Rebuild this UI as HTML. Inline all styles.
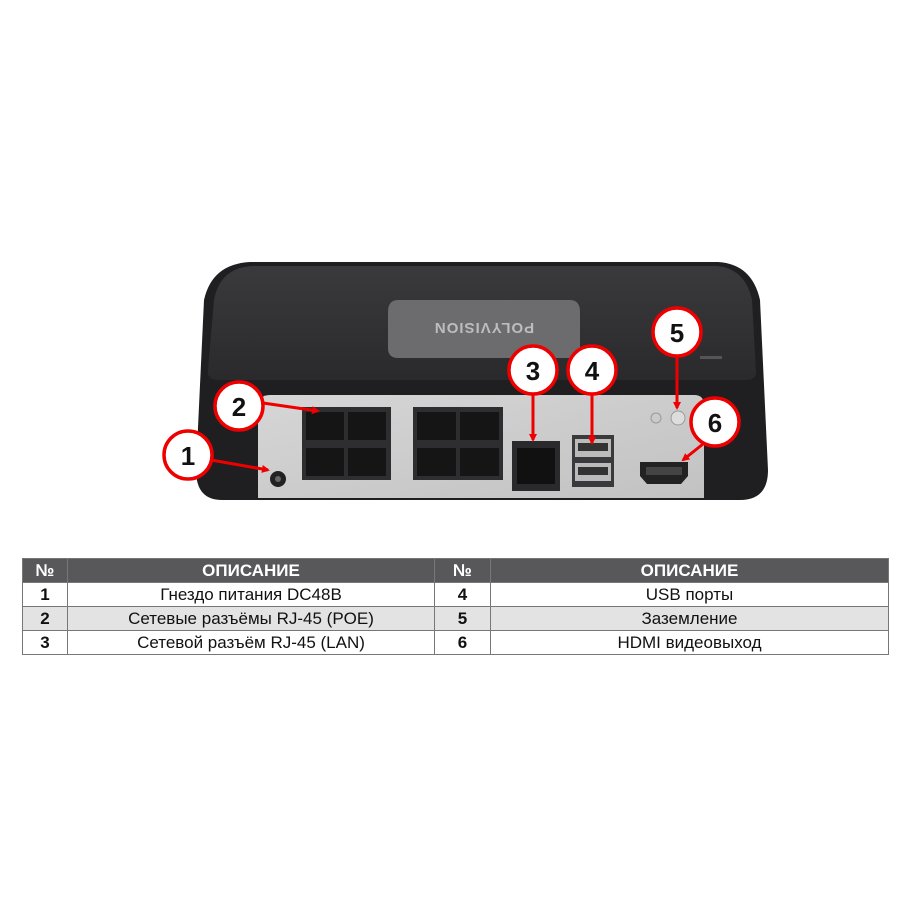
<!DOCTYPE html>
<html><head><meta charset="utf-8"><style>
body{margin:0;background:#fff;width:903px;height:903px;overflow:hidden;font-family:"Liberation Sans","DejaVu Sans",sans-serif}
svg{position:absolute;left:0;top:0}
table{position:absolute;left:22px;top:558px;width:867px;border-collapse:collapse;font-size:17px}
td{border:1px solid #777;height:23px;padding:0;text-align:center;line-height:22px;color:#111}
tr.h td{background:#58585a;color:#fff;font-weight:bold}
tr.g td{background:#e3e3e3}
td.n{font-weight:bold}
</style></head><body>
<svg width="903" height="903" viewBox="0 0 903 903">
<defs>
<linearGradient id="top" x1="0" y1="0" x2="0" y2="1"><stop offset="0" stop-color="#3a3a3c"/><stop offset="1" stop-color="#2a2a2c"/></linearGradient>
<linearGradient id="pan" x1="0" y1="0" x2="1" y2="1"><stop offset="0" stop-color="#d6d6d6"/><stop offset="1" stop-color="#c2c2c2"/></linearGradient>
<marker id="a" markerWidth="8" markerHeight="8" refX="6" refY="4" orient="auto" markerUnits="userSpaceOnUse"><path d="M0,0 L8,4 L0,8 z" fill="#e00"/></marker>
</defs>
<!-- body -->
<path d="M250,262 L718,262 Q752,264 760,300 L768,470 Q768,500 740,500 L222,500 Q196,500 196,470 L204,300 Q212,264 250,262 Z" fill="#1f1f21"/>
<path d="M252,266 L716,266 Q745,268 752,300 L756,372 Q756,380 745,380 L218,380 Q207,380 208,370 L214,300 Q220,268 252,266 Z" fill="url(#top)"/>
<path d="M398,300 L570,300 Q580,300 580,312 L580,348 Q580,358 570,358 L398,358 Q388,358 388,348 L388,312 Q388,300 398,300 Z" fill="#6c6c6e"/>
<text x="484" y="333" fill="#bdbdbd" font-size="15" font-weight="bold" text-anchor="middle" transform="rotate(180 484 328)" letter-spacing="1">POLYVISION</text>
<rect x="700" y="356" width="22" height="3" fill="#555"/>
<!-- panel -->
<path d="M270,395 L694,395 Q704,395 704,405 L704,498 L258,498 L258,407 Q258,395 270,395 Z" fill="url(#pan)"/>
<!-- PoE blocks -->
<g fill="#2e2e30">
<rect x="302" y="407" width="89" height="73"/><rect x="413" y="407" width="90" height="73"/>
</g>
<g fill="#151516">
<rect x="306" y="412" width="38" height="28"/><rect x="348" y="412" width="38" height="28"/>
<rect x="306" y="448" width="38" height="28"/><rect x="348" y="448" width="38" height="28"/>
<rect x="417" y="412" width="39" height="28"/><rect x="460" y="412" width="39" height="28"/>
<rect x="417" y="448" width="39" height="28"/><rect x="460" y="448" width="39" height="28"/>
</g>
<!-- LAN -->
<rect x="512" y="441" width="48" height="50" fill="#2a2a2c"/><rect x="517" y="448" width="38" height="36" fill="#111"/>
<!-- USB -->
<rect x="572" y="435" width="42" height="52" fill="#3a3a3c"/>
<rect x="575" y="439" width="36" height="18" fill="#bbb"/><rect x="575" y="463" width="36" height="18" fill="#bbb"/>
<rect x="578" y="443" width="30" height="8" fill="#333"/><rect x="578" y="467" width="30" height="8" fill="#333"/>
<!-- HDMI -->
<path d="M640,462 L688,462 L688,476 L681,484 L647,484 L640,476 Z" fill="#222"/>
<rect x="646" y="467" width="36" height="8" fill="#444"/>
<!-- DC jack -->
<circle cx="278" cy="479" r="8" fill="#222"/><circle cx="278" cy="479" r="3" fill="#666"/>
<!-- ground screw -->
<circle cx="678" cy="418" r="7" fill="#ddd" stroke="#999"/>
<circle cx="656" cy="418" r="5" fill="none" stroke="#999"/>
<!-- arrows -->
<g stroke="#e00" stroke-width="3" fill="none">
<line x1="211" y1="460" x2="268" y2="470" marker-end="url(#a)"/>
<line x1="263" y1="403" x2="318" y2="411" marker-end="url(#a)"/>
<line x1="533" y1="394" x2="533" y2="440" marker-end="url(#a)"/>
<line x1="592" y1="394" x2="592" y2="443" marker-end="url(#a)"/>
<line x1="677" y1="356" x2="677" y2="408" marker-end="url(#a)"/>
<line x1="703" y1="444" x2="683" y2="460" marker-end="url(#a)"/>
</g>
<g fill="#fff" stroke="#e00" stroke-width="3.5">
<circle cx="188" cy="455" r="24"/><circle cx="239" cy="406" r="24"/>
<circle cx="533" cy="370" r="24"/><circle cx="592" cy="370" r="24"/>
<circle cx="677" cy="332" r="24"/><circle cx="715" cy="422" r="24"/>
</g>
<g font-size="26" font-weight="bold" text-anchor="middle" fill="#111">
<text x="188" y="465">1</text><text x="239" y="416">2</text><text x="533" y="380">3</text>
<text x="592" y="380">4</text><text x="677" y="342">5</text><text x="715" y="432">6</text>
</g>
</svg>
<table>
<colgroup><col style="width:45px"><col style="width:367px"><col style="width:56px"><col></colgroup>
<tr class="h"><td>№</td><td>ОПИСАНИЕ</td><td>№</td><td>ОПИСАНИЕ</td></tr>
<tr><td class="n">1</td><td>Гнездо питания DC48B</td><td class="n">4</td><td>USB порты</td></tr>
<tr class="g"><td class="n">2</td><td>Сетевые разъёмы RJ-45 (POE)</td><td class="n">5</td><td>Заземление</td></tr>
<tr><td class="n">3</td><td>Сетевой разъём RJ-45 (LAN)</td><td class="n">6</td><td>HDMI видеовыход</td></tr>
</table>
</body></html>
